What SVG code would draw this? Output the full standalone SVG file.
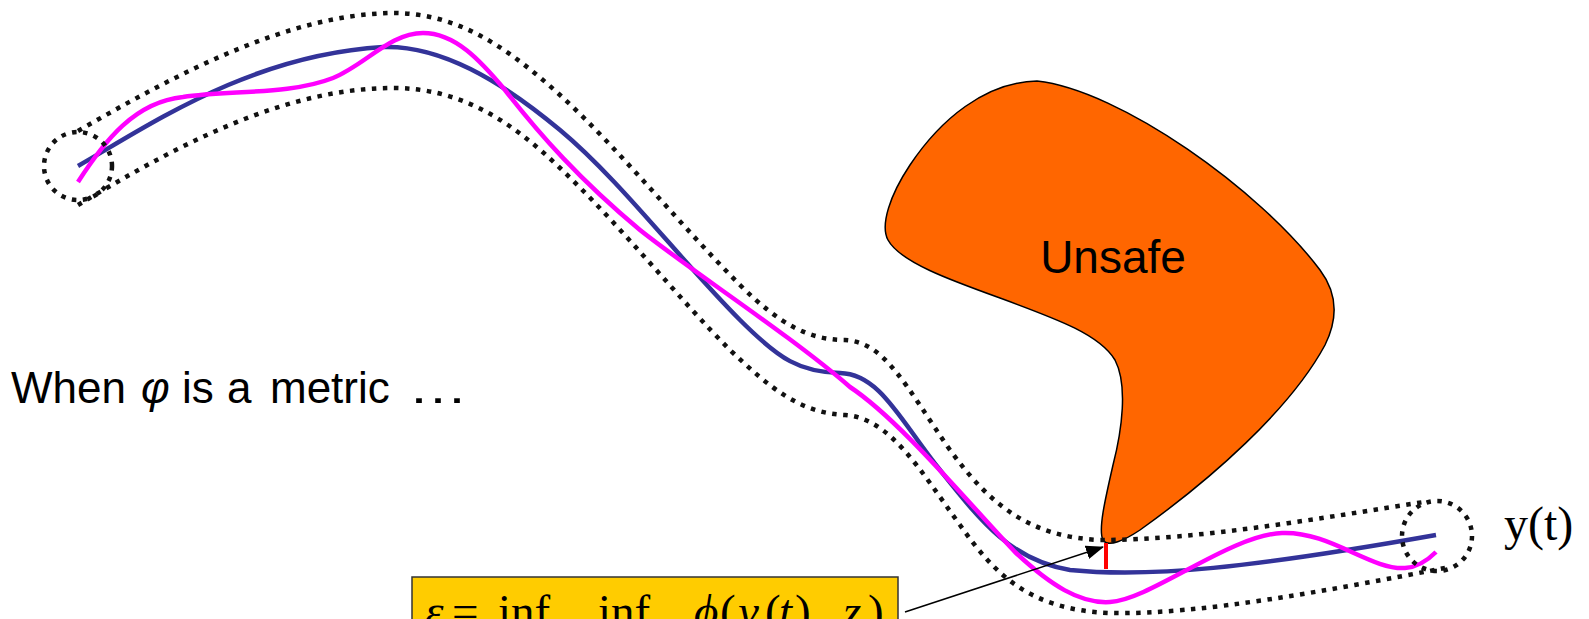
<svg xmlns="http://www.w3.org/2000/svg" width="1589" height="619" viewBox="0 0 1589 619">
<style>
.dot{fill:none;stroke:#111;stroke-width:4.5;stroke-dasharray:4.5 6.5}
.blue{fill:none;stroke:#333399;stroke-width:4.5}
.mag{fill:none;stroke:#FF00FF;stroke-width:4.5}
.sans{font-family:"Liberation Sans",Arial,sans-serif;fill:#000}
.serif{font-family:"Liberation Serif","Times New Roman",serif;fill:#000}
</style>
<defs>
<marker id="ah" markerWidth="18" markerHeight="14" refX="17" refY="7" orient="auto" markerUnits="userSpaceOnUse">
<path d="M0,0 L18,7 L0,14 Z" fill="#000"/>
</marker>
</defs>
<rect width="1589" height="619" fill="#fff"/>
<g id="trajectories">
<path class="blue" d="M78,166 C150,125 250,55 383,47 C440,45 500,80 560,130 C620,180 680,260 740,320 C780,360 800,372 840,373 C880,374 900,420 940,470 C980,520 1010,560 1070,570 C1150,578 1250,568 1436,535"/>
<path class="mag" d="M78,182 C105,140 135,102 183,97 C230,90 290,95 333,78 C365,65 390,33 423,33 C455,33 480,60 505,90 C540,135 580,180 640,230 C690,270 790,335 850,387 C900,420 970,505 1015,552 C1050,585 1080,604 1110,602 C1150,600 1230,535 1282,533 C1330,531 1370,570 1405,568 C1420,567 1430,558 1436,552"/>
</g>
<g id="unsafe">
<path d="M1037,81 C985,82 940,120 910,165 C890,195 880,225 888,240 C900,262 950,280 1000,298 C1060,320 1100,335 1115,360 C1128,385 1122,430 1113,465 C1105,500 1098,530 1103,540 C1108,548 1125,540 1140,530 C1210,480 1290,410 1325,345 C1340,315 1335,290 1320,270 C1260,190 1120,90 1037,81 Z" fill="#FF6600" stroke="#000" stroke-width="1.5"/>
<text class="sans" x="1113" y="273" font-size="46" text-anchor="middle">Unsafe</text>
</g>
<g id="tube">
<path class="dot" d="M78,131 C180,72 290,14 393,13 C460,13 510,50 560,95 C620,150 680,225 740,285 C780,325 810,340 845,340 C885,342 905,385 950,450 C990,505 1030,537 1100,540 C1200,540 1320,518 1424,502"/>
<path class="dot" d="M78,205 C170,150 280,88 393,88 C460,88 510,120 560,168 C620,225 680,300 730,350 C770,388 800,413 845,415 C890,418 920,470 960,525 C995,575 1030,610 1110,613 C1200,615 1330,590 1445,568"/>
<circle id="start-set" class="dot" cx="78" cy="166" r="34"/>
<circle id="end-set" class="dot" cx="1437" cy="536" r="35"/>
</g>
<g id="distance">
<line x1="1106" y1="543" x2="1106" y2="569" stroke="#FF0000" stroke-width="4"/>
</g>
<g id="connectors">
<line x1="905" y1="612" x2="1103" y2="547" stroke="#000" stroke-width="1.5" marker-end="url(#ah)"/>
</g>
<g id="formula">
<rect x="412" y="577" width="486" height="60" fill="#FFCC00" stroke="#333" stroke-width="1.5"/>
<text class="serif" y="627" font-size="47">
<tspan x="425" font-style="italic">ε</tspan><tspan x="452">=</tspan><tspan x="498">inf</tspan><tspan x="598">inf</tspan><tspan x="694" font-style="italic">ϕ</tspan><tspan x="720">(</tspan><tspan x="738" font-style="italic">y</tspan><tspan x="765">(</tspan><tspan x="779" font-style="italic">t</tspan><tspan x="795">),</tspan><tspan x="843" font-style="italic">z</tspan><tspan x="868">)</tspan>
</text>
</g>
<g id="labels">
<text class="sans" y="403" font-size="44"><tspan x="11">When</tspan><tspan x="141" font-style="italic">φ</tspan><tspan x="182">is</tspan><tspan x="227">a</tspan><tspan x="270">metric</tspan><tspan x="408" textLength="60" lengthAdjust="spacingAndGlyphs">…</tspan></text>
<text class="serif" x="1504" y="540" font-size="48">y(t)</text>
</g>
</svg>
